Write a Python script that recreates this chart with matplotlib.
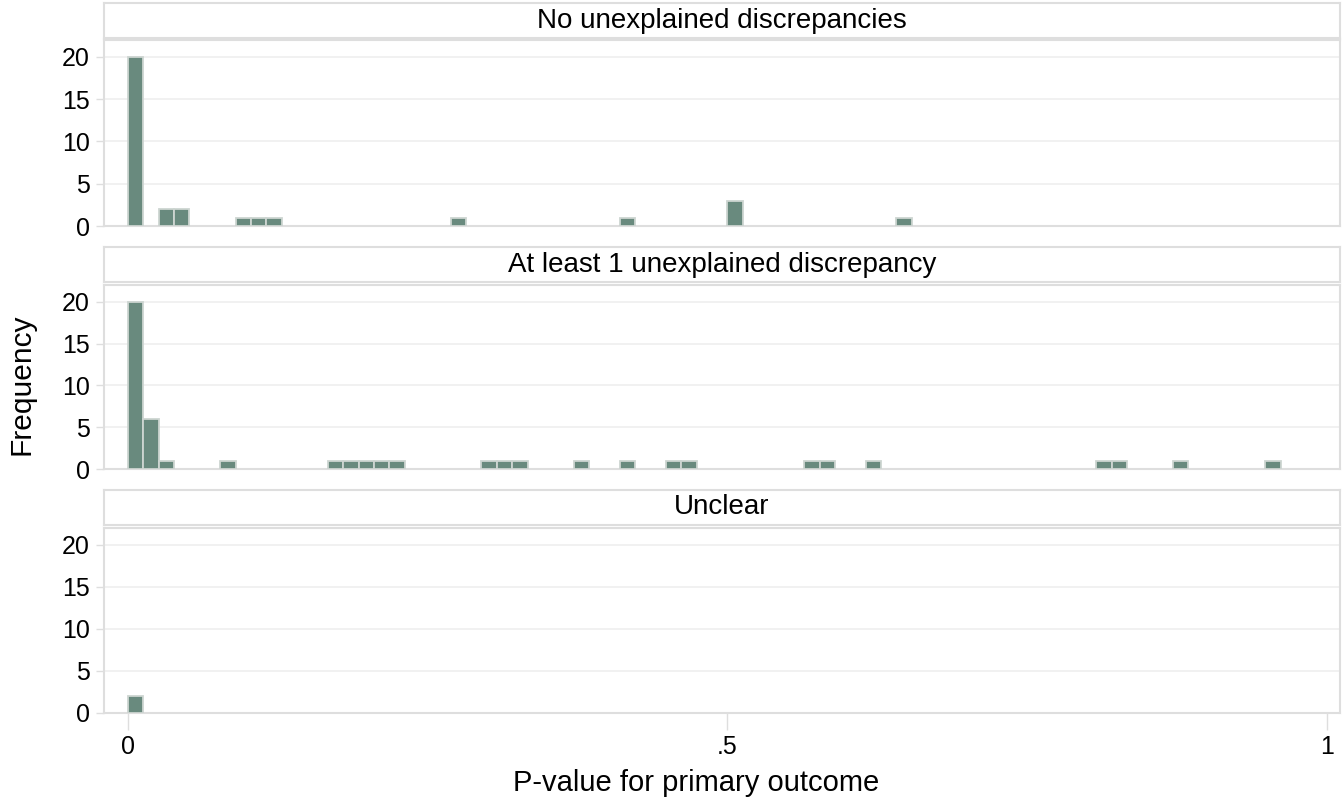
import numpy as np
import matplotlib
matplotlib.use("Agg")
import matplotlib.pyplot as plt

plt.rcParams['font.family'] = ['Liberation Sans', 'DejaVu Sans']

# histogram: 78 bins of equal width on [0, 1]
n_bins = 78
bin_w = 1.0 / n_bins

panel_titles = ["No unexplained discrepancies",
                "At least 1 unexplained discrepancy",
                "Unclear"]

# bin index -> frequency, per panel
bins_none = [0, 2, 3, 7, 8, 9, 21, 32, 39, 50]
freq_none = [20, 2, 2, 1, 1, 1, 1, 1, 3, 1]

bins_one = [0, 1, 2, 6, 13, 14, 15, 16, 17, 23, 24, 25, 29, 32, 35, 36,
            44, 45, 48, 63, 64, 68, 74]
freq_one = [20, 6, 1, 1, 1, 1, 1, 1, 1, 1, 1, 1, 1, 1, 1, 1,
            1, 1, 1, 1, 1, 1, 1]

bins_unclear = [0]
freq_unclear = [2]

panel_bins = [bins_none, bins_one, bins_unclear]
panel_freq = [freq_none, freq_one, freq_unclear]

yticks = [0, 5, 10, 15, 20]
xticks = [0, 0.5, 1]
xticklabels = ["0", ".5", "1"]

fill = "#698a7e"
outline = "#cdd5d1"
frame = "#dedede"
grid = "#efefef"

W, H = 1344, 800
fig = plt.figure(figsize=(W / 100, H / 100), dpi=100)

# pixel layout (top, bottom) of header strips and plot regions
headers = [(3, 38), (247, 282), (490, 525)]
plots = [(40, 226), (285, 469), (528, 713)]
x0, x1 = 104, 1340

def fig_rect(top, bot):
    return [x0 / W, 1 - bot / H, (x1 - x0) / W, (bot - top) / H]

for i in range(3):
    # header strip
    hax = fig.add_axes(fig_rect(*headers[i]))
    hax.set_xticks([])
    hax.set_yticks([])
    for s in hax.spines.values():
        s.set_color(frame)
        s.set_linewidth(1.5)
    hax.text(0.5, 0.5, panel_titles[i], ha="center", va="center",
             fontsize=20, transform=hax.transAxes)

    ax = fig.add_axes(fig_rect(*plots[i]))
    edges = np.array(panel_bins[i]) * bin_w
    ax.bar(edges, panel_freq[i], width=bin_w, align="edge",
           color=fill, edgecolor=outline, linewidth=1.3, zorder=3)
    ax.set_xlim(-0.02, 1.011)
    ax.set_ylim(0, 22)
    ax.set_yticks(yticks)
    ax.set_yticklabels([str(v) for v in yticks], fontsize=18)
    for v in yticks[1:]:
        ax.axhline(v, color=grid, linewidth=1.2, zorder=1)
    for s in ax.spines.values():
        s.set_color(frame)
        s.set_linewidth(1.5)
    ax.tick_params(axis="y", length=6, color=frame, width=1, pad=4)
    if i < 2:
        ax.set_xticks([])
    else:
        ax.set_xticks(xticks)
        ax.set_xticklabels(xticklabels, fontsize=18)
        ax.tick_params(axis="x", length=12, color=frame, width=1, pad=4)

fig.text(696 / W, 1 - 783 / H, "P-value for primary outcome", ha="center",
         va="center", fontsize=21)
fig.text(21 / W, 1 - 384 / H, "Frequency", rotation=90, ha="center",
         va="center", fontsize=21.5)

fig.savefig("out.png", dpi=100, facecolor="white")
